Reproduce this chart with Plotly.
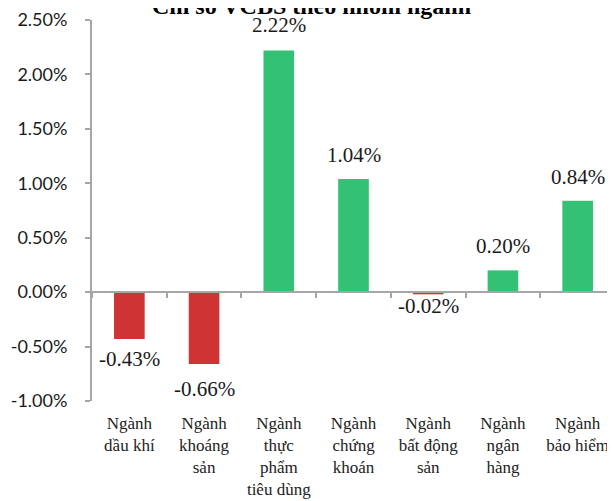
import plotly.graph_objects as go

categories = ["Ngành<br>dầu khí", "Ngành<br>khoáng<br>sản", "Ngành<br>thực<br>phẩm<br>tiêu dùng",
              "Ngành<br>chứng<br>khoán", "Ngành<br>bất động<br>sản", "Ngành<br>ngân<br>hàng",
              "Ngành<br>bảo hiểm"]
values = [-0.43, -0.66, 2.22, 1.04, -0.02, 0.20, 0.84]
y_ticks = [-1.0, -0.5, 0.0, 0.5, 1.0, 1.5, 2.0, 2.5]
title_text = "Chỉ số VCBS theo nhóm ngành"

# style: label pixel offsets
label_shift = [-6, -11, 11, 10, 2, 10, 10]

RED = "#CE3434"
GREEN = "#33C176"
AXIS = "#A6A6A6"

colors = [RED if v < 0 else GREEN for v in values]

fig = go.Figure()
fig.add_trace(go.Bar(x=categories, y=values, marker_color=colors, marker_line_width=0,
                     showlegend=False, hoverinfo="skip"))
# helper trace to activate the zero axis (x2)
fig.add_trace(go.Scatter(x=[None], y=[None], xaxis="x2", yaxis="y", showlegend=False,
                         hoverinfo="skip", mode="markers"))

anns = []
for i, (c, v) in enumerate(zip(categories, values)):
    anns.append(dict(x=c, y=v, xref="x", yref="y", text=f"{v:.2f}%", showarrow=False,
                     yanchor="bottom" if v >= 0 else "top", yshift=label_shift[i],
                     font=dict(family="Liberation Serif", size=21, color="#1a1a1a")))
anns.append(dict(x=0.42, y=1, xref="paper", yref="paper", yanchor="bottom", yshift=-1,
                 text=f"<b>{title_text}</b>", showarrow=False,
                 font=dict(family="Liberation Serif", size=24, color="#000")))

n = len(categories)
fig.update_layout(
    width=607, height=493,
    margin=dict(l=84, r=0, t=9, b=100),
    paper_bgcolor="white", plot_bgcolor="white",
    bargap=0.59,
    annotations=anns,
    xaxis=dict(type="category", range=[-0.5, n - 0.5], showline=False, ticks="",
               showgrid=False, zeroline=False, ticklabelstandoff=10,
               tickfont=dict(family="Liberation Serif", size=17, color="#222")),
    xaxis2=dict(overlaying="x", anchor="free",
                position=(0 - y_ticks[0]) / (y_ticks[-1] - y_ticks[0]),
                range=[-0.5, n - 0.5], tickmode="array",
                tickvals=[i - 0.5 for i in range(n + 1)],
                ticks="outside", ticklen=5, tickwidth=1.5, tickcolor=AXIS,
                showline=True, linecolor=AXIS, linewidth=2,
                showticklabels=False, showgrid=False, zeroline=False, side="bottom"),
    yaxis=dict(range=[y_ticks[0], y_ticks[-1]], tickmode="array", tickvals=y_ticks,
               ticktext=[f"{t:.2f}%" for t in y_ticks],
               ticks="outside", ticklen=5, tickwidth=1.5, tickcolor=AXIS,
               showline=True, linecolor=AXIS, linewidth=2, showgrid=False, zeroline=False,
               ticklabelstandoff=14, ticklabeloverflow="allow",
               tickfont=dict(family="Lato", size=18, color="#1a1a1a")),
)

fig.write_html("out.html")
